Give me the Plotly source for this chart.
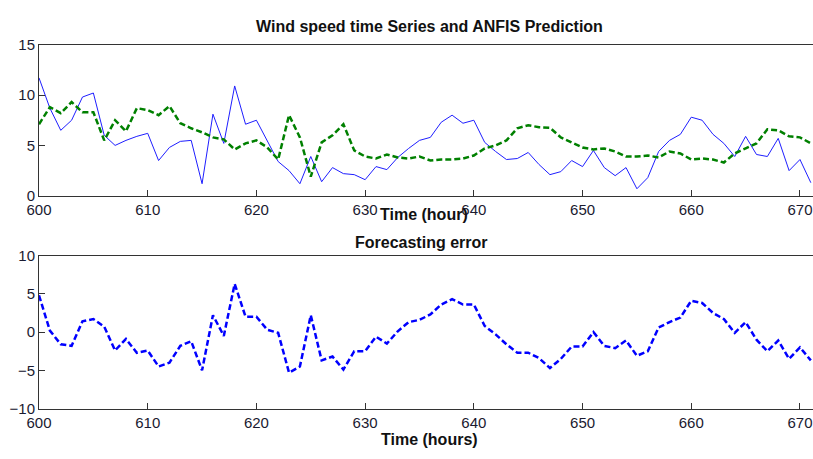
import plotly.graph_objects as go

hours = list(range(600, 672))

actual = [11.7, 8.7, 6.5, 7.5, 9.8, 10.2, 6.0, 5.0, 5.5, 5.9,
          6.2, 3.5, 4.8, 5.4, 5.5, 1.2, 8.1, 5.2, 10.9, 7.1,
          7.5, 5.5, 3.4, 2.5, 1.2, 3.9, 1.4, 2.8, 2.2, 2.1,
          1.6, 2.9, 2.6, 3.8, 4.7, 5.5, 5.8, 7.3, 8.0, 7.2,
          7.5, 5.3, 4.4, 3.6, 3.7, 4.3, 3.1, 2.1, 2.4, 3.5,
          2.9, 4.5, 2.8, 2.0, 2.8, 0.7, 1.8, 4.4, 5.5, 6.1,
          7.8, 7.5, 6.1, 5.2, 3.9, 5.9, 4.1, 3.9, 5.7, 2.5,
          3.6, 1.3]

predicted = [7.1, 8.8, 8.2, 9.3, 8.3, 8.3, 5.5, 7.5, 6.4, 8.7,
             8.5, 8.0, 8.9, 7.2, 6.7, 6.3, 5.8, 5.6, 4.6, 5.2,
             5.5, 4.8, 3.6, 8.0, 5.8, 1.9, 5.3, 6.0, 7.1, 4.5,
             3.9, 3.7, 4.1, 3.8, 3.7, 3.9, 3.5, 3.6, 3.6, 3.7,
             4.0, 4.7, 5.0, 5.5, 6.7, 7.0, 6.8, 6.75, 5.8, 5.3,
             4.8, 4.6, 4.7, 4.4, 3.9, 3.9, 4.0, 3.8, 4.4, 4.2,
             3.6, 3.7, 3.6, 3.3, 4.2, 4.7, 5.2, 6.6, 6.5, 5.9,
             5.8, 5.2]

error = [4.8, 0.2, -1.6, -1.8, 1.4, 1.7, 0.7, -2.4, -0.9, -2.7,
         -2.4, -4.5, -4.0, -1.8, -1.2, -5.0, 2.2, -0.5, 6.3, 2.0,
         2.0, 0.3, -0.1, -5.3, -4.5, 2.2, -3.7, -3.2, -4.9, -2.5,
         -2.5, -0.6, -1.5, 0.1, 1.3, 1.6, 2.3, 3.6, 4.3, 3.6,
         3.6, 0.8, -0.3, -1.6, -2.7, -2.7, -3.4, -4.7, -3.5, -1.9,
         -1.9, 0.0, -1.8, -2.1, -1.1, -3.1, -2.5, 0.6, 1.3, 1.9,
         4.1, 3.8, 2.5, 1.7, -0.1, 1.3, -1.0, -2.5, -1.1, -3.5,
         -2.0, -3.7]

x_ticks = [600, 610, 620, 630, 640, 650, 660, 670]
top_y_ticks = [0, 5, 10, 15]
bot_y_ticks = [-10, -5, 0, 5, 10]

W, H = 813, 459
FONT = "Liberation Sans, Arial, sans-serif"

fig = go.Figure()
fig.add_trace(go.Scatter(x=hours, y=actual, mode="lines",
                         line=dict(color="rgb(30,30,255)", width=1),
                         xaxis="x", yaxis="y", showlegend=False))
fig.add_trace(go.Scatter(x=hours, y=predicted, mode="lines",
                         line=dict(color="rgb(0,128,0)", width=2.5, dash="6px,3px"),
                         xaxis="x", yaxis="y", showlegend=False))
fig.add_trace(go.Scatter(x=hours, y=error, mode="lines",
                         line=dict(color="rgb(0,0,255)", width=2.5, dash="6px,3px"),
                         xaxis="x2", yaxis="y2", showlegend=False))

axis_common = dict(showgrid=False, zeroline=False, showline=True,
                   linecolor="#333333", linewidth=1, ticks="inside",
                   ticklen=6, tickcolor="#333333",
                   tickfont=dict(family=FONT, size=15, color="#1a1a30"))

xr = [600, 600 + (W - 39) / 10.871]

fig.update_layout(
    width=W, height=H,
    margin=dict(l=39, r=0, t=0, b=0),
    paper_bgcolor="white", plot_bgcolor="white",
    xaxis=dict(domain=[0, 1], range=xr, tickvals=x_ticks, mirror=True,
               anchor="y", **axis_common),
    yaxis=dict(domain=[1 - 194 / H, 1 - 37 / H], range=[0, 15],
               tickvals=top_y_ticks, anchor="x", **axis_common),
    xaxis2=dict(domain=[0, 1], range=xr, tickvals=x_ticks, mirror=True,
                anchor="y2", **axis_common),
    yaxis2=dict(domain=[1 - 415 / H, 1 - 256 / H], range=[-10, 10],
                tickvals=bot_y_ticks, anchor="x2", **axis_common),
)

def label(text, px, py, size=16):
    fig.add_annotation(text="<b>" + text + "</b>", xref="paper", yref="paper",
                       x=(px - 39) / (W - 39), y=1 - py / H,
                       xanchor="center", yanchor="middle", showarrow=False,
                       font=dict(family=FONT, size=size, color="#111111"))

label("Wind speed time Series and ANFIS Prediction", 429, 18)
label("Time (hour)", 424, 213)
label("Forecasting error", 421, 242)
label("Time (hours)", 429, 447)

fig.write_html("out.html")
